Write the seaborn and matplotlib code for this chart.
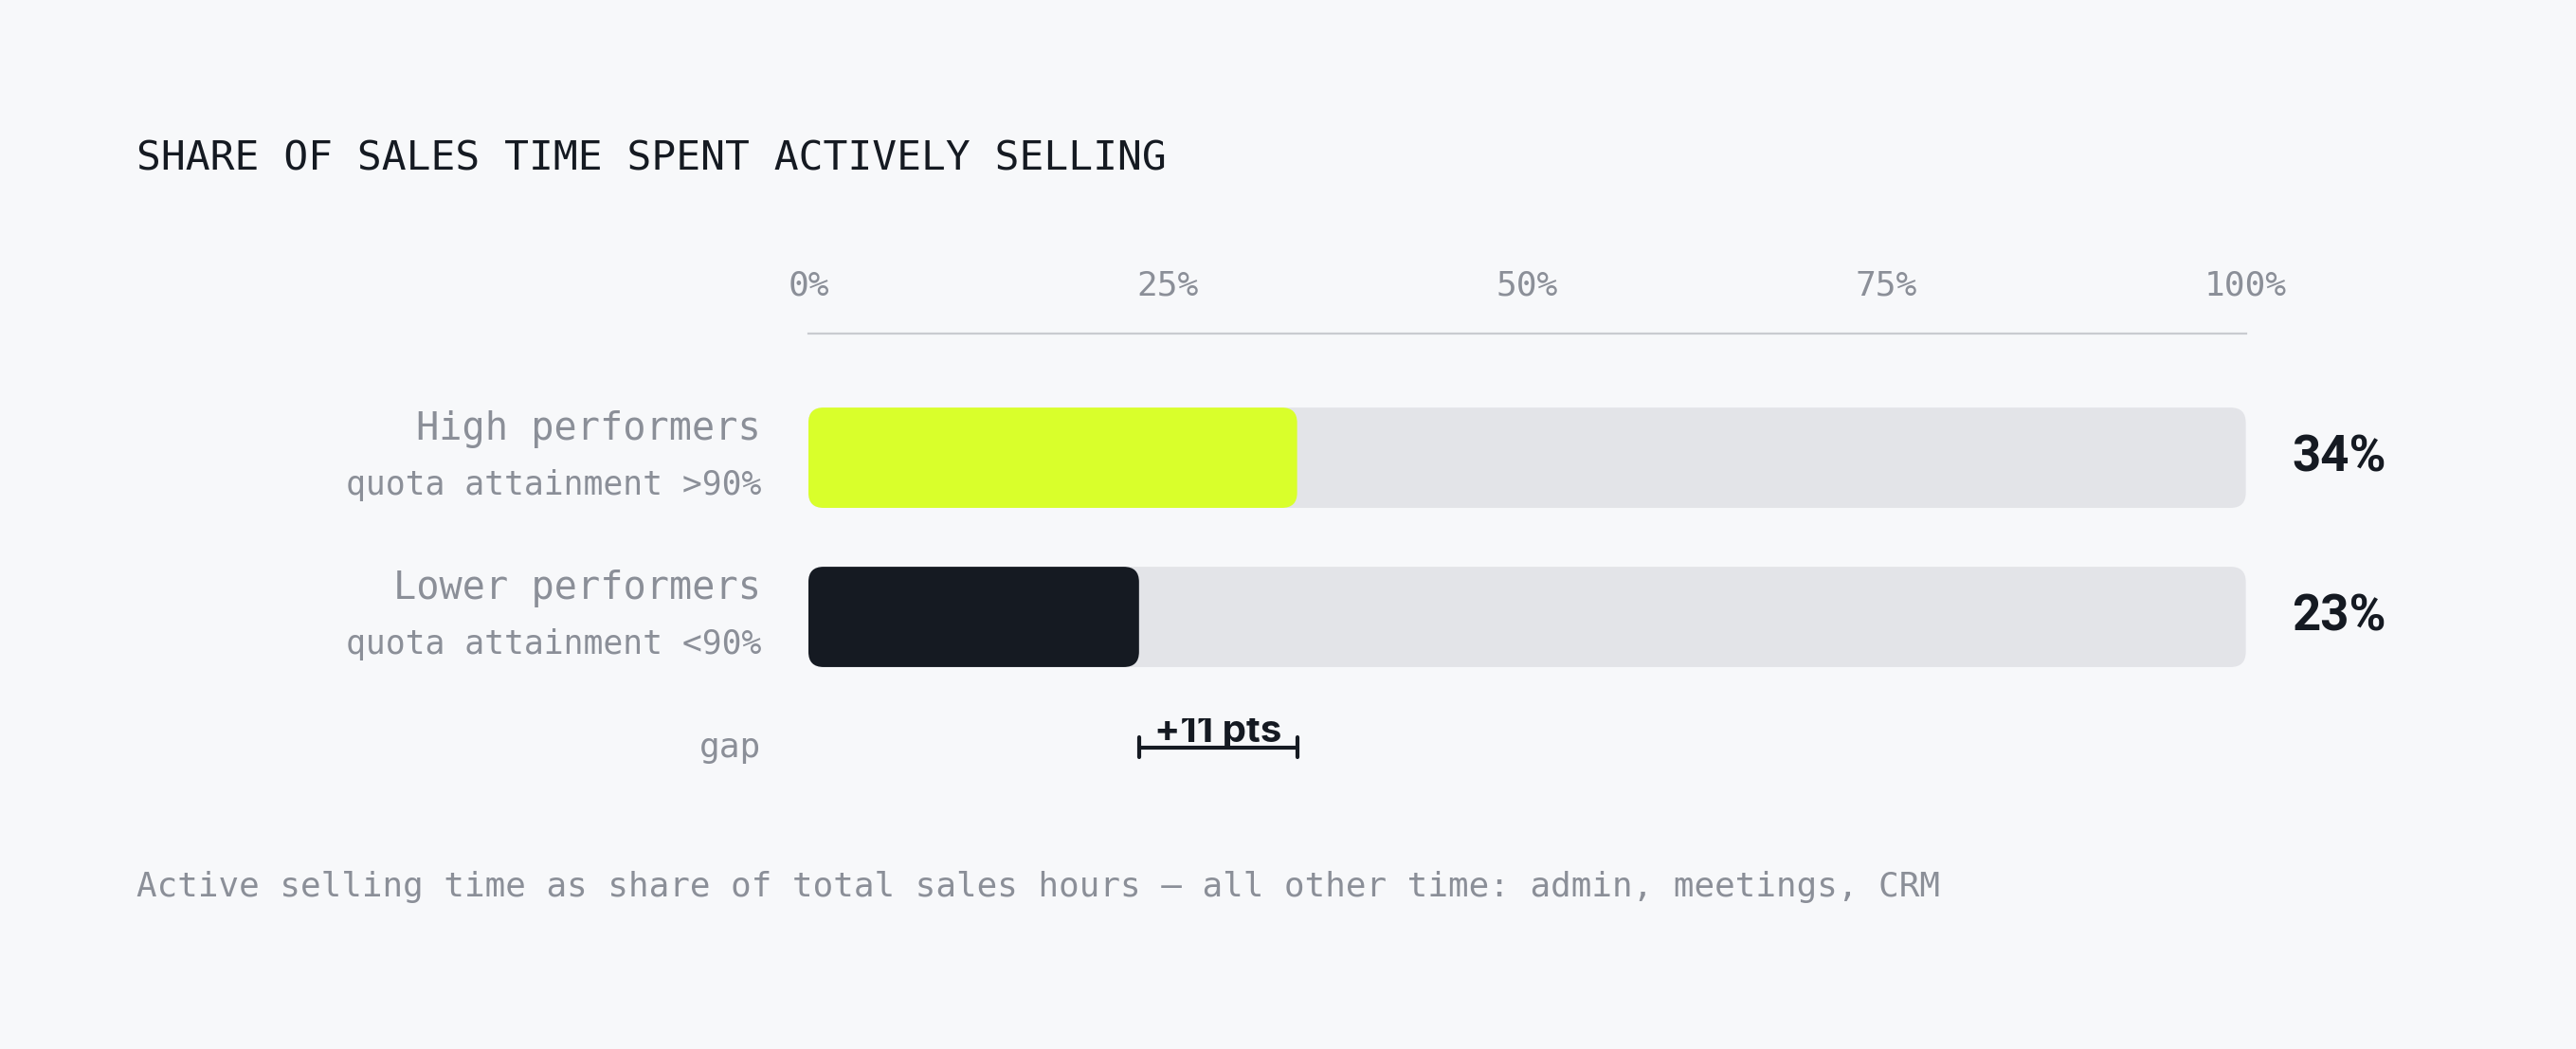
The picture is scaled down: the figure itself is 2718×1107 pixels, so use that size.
import numpy as np
import pandas as pd
import matplotlib.pyplot as plt
import seaborn as sns
from matplotlib.patches import FancyBboxPatch
from matplotlib.transforms import Bbox, TransformedBbox

# data
groups = ['High performers', 'Lower performers']
subtitles = ['quota attainment >90%', 'quota attainment <90%']
share = [34, 23]
track = [100, 100]
ticks = [0, 25, 50, 75, 100]

title = 'SHARE OF SALES TIME SPENT ACTIVELY SELLING'
note = 'Active selling time as share of total sales hours \u2014 all other time: admin, meetings, CRM'

BG = '#f7f8fa'
INK = '#151a22'
LIME = '#d9ff2b'
TRACK = '#e3e4e8'
GRAY = '#8b8f98'
RULE = '#c9cbd0'

sns.set_theme(style='white', rc={'figure.facecolor': BG, 'axes.facecolor': BG})
plt.rcParams['font.family'] = ['DejaVu Sans Mono', 'DejaVu Sans']

W, H = 2718, 1107
fig = plt.figure(figsize=(W / 100, H / 100), dpi=100)
ax = fig.add_axes([853 / W, 1 - 852.6 / H, 1516.6 / W, (852.6 - 352) / H])

df = pd.DataFrame({'group': groups, 'share': share, 'track': track})

sns.barplot(data=df, x='track', y='group', orient='h', color=TRACK, width=0.63,
            saturation=1, ax=ax)
sns.barplot(data=df, x='share', y='group', hue='group', orient='h',
            palette=[LIME, INK], width=0.63, saturation=1, legend=False, ax=ax)

ax.set_xlim(0, 100)
ax.set_ylim(2.2, -0.78)

# swap plain rectangles for rounded ones
px_x = ax.transData.transform((1, 0))[0] - ax.transData.transform((0, 0))[0]
px_y = abs(ax.transData.transform((0, 1))[1] - ax.transData.transform((0, 0))[1])
radius = 16
aspect = (radius / px_y) / (radius / px_x)
for p in list(ax.patches):
    x, y, w, h = p.get_x(), p.get_y(), p.get_width(), p.get_height()
    if w <= 0:
        continue
    rp = FancyBboxPatch((x, y), w, h,
                        boxstyle=f'round,pad=0,rounding_size={radius / px_x}',
                        mutation_aspect=aspect, fc=p.get_facecolor(), ec='none',
                        zorder=p.get_zorder())
    ax.add_patch(rp)
    p.remove()

ax.set_xlabel('')
ax.set_ylabel('')
ax.set_yticks([])
ax.set_xticks(ticks)
ax.set_xticklabels([f'{t}%' for t in ticks])
ax.xaxis.tick_top()
ax.tick_params(axis='x', length=0, pad=24, labelsize=26, labelcolor=GRAY)
for s in ['left', 'right', 'bottom']:
    ax.spines[s].set_visible(False)
ax.spines['top'].set_color(RULE)
ax.spines['top'].set_linewidth(1.6)
ax.grid(False)

# labels on the left and values on the right
lab_x = -50 / px_x
for i, (g, sub, v) in enumerate(zip(groups, subtitles, share)):
    ax.text(lab_x, i - 0.18, g, ha='right', va='center', fontsize=29, color=GRAY)
    ax.text(lab_x, i + 0.17, sub, ha='right', va='center', fontsize=25, color=GRAY)
    ax.text(103.2, i, f'{v}%', ha='left', va='center', fontsize=38,
            weight='bold', family='Roboto', color=INK)

# gap bracket
lo, hi = min(share), max(share)
gy = 1.82
tk = 10.5 / px_y
ax.text(lab_x, gy, 'gap', ha='right', va='center', fontsize=26, color=GRAY)
ax.plot([lo, hi], [gy, gy], color=INK, lw=3, clip_on=False, solid_capstyle='butt', zorder=5)
for gx in (lo, hi):
    ax.plot([gx, gx], [gy - tk, gy + tk], color=INK, lw=3, clip_on=False, zorder=5)
gap_txt = ax.text((lo + hi) / 2, gy - 6 / px_y, f'+{hi - lo} pts', ha='center', va='baseline',
                  fontsize=29, weight='bold', family='Inter', color=INK, zorder=4)
gap_txt.set_clip_box(TransformedBbox(Bbox([[lo - 5, gy - 31 / px_y], [hi + 5, 2.2]]),
                                     ax.transData))
gap_txt.set_clip_on(True)

fig.text(144 / W, 1 - 168 / H, title, ha='left', va='center', fontsize=31, color=INK)
fig.text(144 / W, 1 - 936 / H, note, ha='left', va='center', fontsize=25.8, color=GRAY)

fig.savefig('out.png', dpi=100, facecolor=BG)
